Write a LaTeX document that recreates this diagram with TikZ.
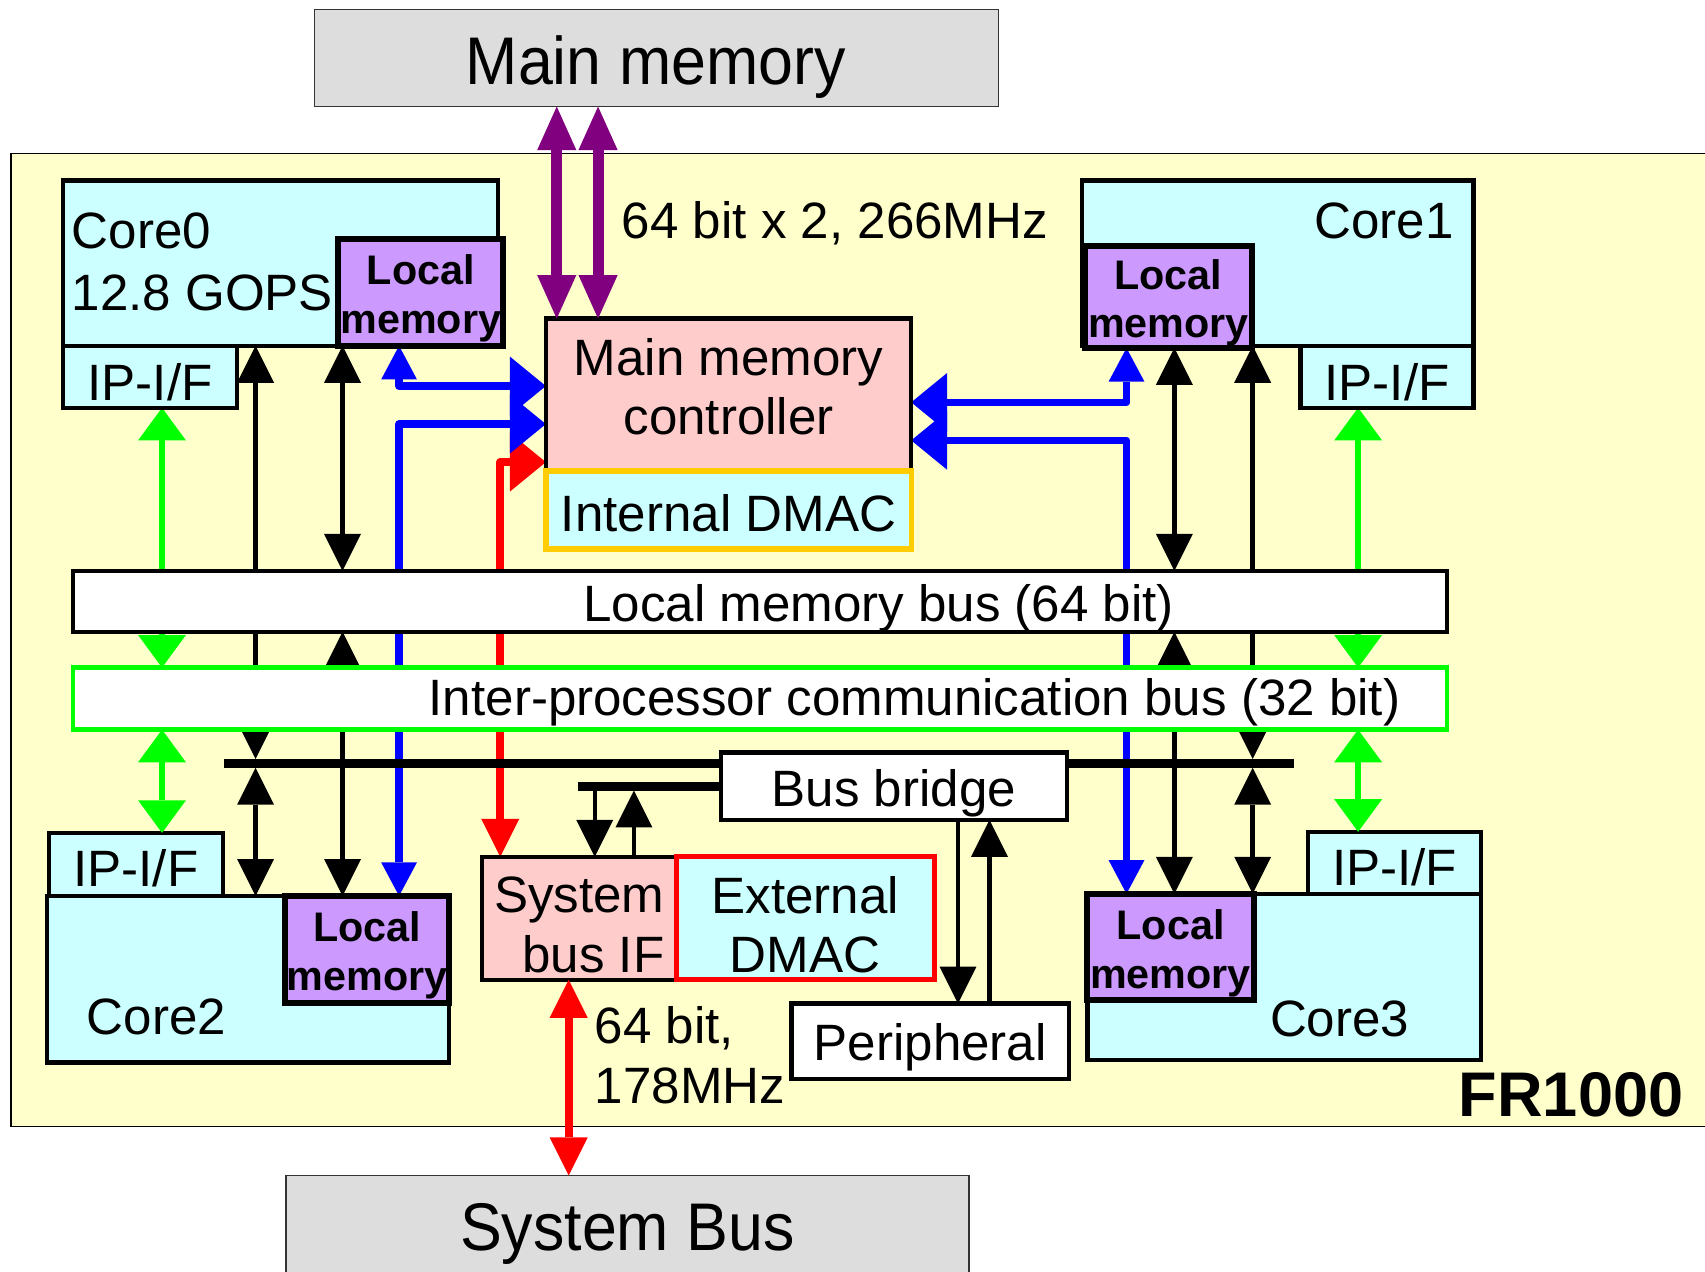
\documentclass[tikz,border=0pt]{standalone}
\usepackage{fontspec}
\setmainfont{Liberation Sans}
\usepackage{graphicx}
\usetikzlibrary{arrows.meta}

\definecolor{chipfill}{HTML}{FFFFCC}
\definecolor{corecyan}{HTML}{CCFFFF}
\definecolor{lmpurple}{HTML}{CC99FF}
\definecolor{ctrlpink}{HTML}{FFCCCC}
\definecolor{extgray}{HTML}{DDDDDD}
\definecolor{dmacorange}{HTML}{FFCC00}
\definecolor{ipgreen}{HTML}{00FF00}
\definecolor{busblue}{HTML}{0000FF}
\definecolor{sysred}{HTML}{FF0000}
\definecolor{memviolet}{HTML}{800080}

\pgfdeclarelayer{bg}
\pgfdeclarelayer{back}
\pgfsetlayers{bg,back,main}

\newcommand\fbody{\fontsize{47}{55}\selectfont}
\newcommand\fwide{\fontsize{47}{57}\selectfont}
\newcommand\fbig{\fontsize{62}{70}\selectfont}
\newcommand\flm{\fontsize{38}{45}\selectfont\bfseries}
\newcommand\ftitle{\fontsize{58}{66}\selectfont\bfseries}

% rectangle node given by its corners: name, style, x1, y1, x2, y2
\newcommand\blockat[6]{%
  \node[#2, minimum width={(#5)-(#3)}, minimum height={(#6)-(#4)}]
    (#1) at ({((#3)+(#5))/2},{((#4)+(#6))/2}) {};}

\tikzset{
  tipK/.tip={Triangle[width=34pt,length=34pt,line width=0pt]},
  tipS/.tip={Triangle[width=33pt,length=31pt,line width=0pt]},
  tipL/.tip={Triangle[width=54pt,length=33pt,line width=0pt]},
  tipR/.tip={Triangle[width=35pt,length=35pt,line width=0pt]},
  tipG/.tip={Triangle[width=44pt,length=30pt,line width=0pt]},
  tipP/.tip={Triangle[width=36pt,length=40pt,line width=0pt]},
  frame/.style={rectangle, inner sep=0pt, outer sep=0pt},
  boxed/.style={frame, draw=black, line width=4pt},
  corebox/.style={boxed, fill=corecyan},
  lmbox/.style={boxed, fill=lmpurple, line width=5.5pt},
  ctrlbox/.style={boxed, fill=ctrlpink},
  whitebox/.style={boxed, fill=white},
  offchip/.style={frame, draw=black!80, line width=1.2pt, fill=extgray},
  lbl/.style={inner sep=0pt, outer sep=0pt, font=\fbody},
  lmlbl/.style={inner sep=0pt, outer sep=0pt, font=\flm, align=center, yshift=-5.5pt},
  blk/.style={black, line width=4pt, arrows={tipK-tipK}},
  grn/.style={color=ipgreen, line width=6pt, arrows={tipG-tipG}},
  blu/.style={color=busblue, line width=7pt, line join=round},
  rd/.style={color=sysred, line width=7pt, line join=round},
  pur/.style={color=memviolet, line width=10pt, arrows={tipP-tipP}},
}

\begin{document}
\begin{tikzpicture}[x=1pt, y=-1pt]
\useasboundingbox (0,0) rectangle (1568,1169);

% ---------- chip outline and off-chip parts ----------
\begin{pgfonlayer}{bg}
  \fill[white] (0,0) rectangle (1568,1169);
  \blockat{fr}{frame, draw=black, line width=1.5pt, fill=chipfill}{10}{141}{1600}{1036}
\end{pgfonlayer}
\blockat{mainmem}{offchip}{289}{9}{918}{98}
\blockat{sysbus}{offchip}{263}{1081}{891}{1200}

% ---------- cores ----------
\blockat{core0}{corebox}{58}{166}{458}{318}
\blockat{c0lm}{lmbox}{311}{220}{463}{318}
\blockat{c0ip}{corebox}{58}{318}{218}{375}

\blockat{core1}{corebox}{995}{166}{1355}{318}
\blockat{c1lm}{lmbox}{998}{226}{1151}{320}
\blockat{c1ip}{corebox}{1196}{318}{1355}{375}

\blockat{core2}{corebox}{43}{824}{413}{977}
\blockat{c2ip}{corebox}{45}{766}{205}{824}
\blockat{c2lm}{lmbox}{262}{824}{413}{922}

\blockat{core3}{corebox}{1000}{822}{1362}{975}
\blockat{c3ip}{corebox}{1203}{765}{1362}{822}
\blockat{c3lm}{lmbox}{1000}{822}{1153}{920}

% ---------- memory controller ----------
\blockat{ctrl}{ctrlbox}{502}{293}{838}{433}
\blockat{idmac}{frame, draw=dmacorange, line width=5pt, fill=corecyan}{502}{433}{838}{505}

% ---------- buses ----------
\blockat{lmb}{whitebox}{67}{525}{1331}{581}
\blockat{ipb}{frame, draw=ipgreen, line width=4pt, fill=white}{67}{614}{1331}{671}
\blockat{bus}{frame, fill=black}{206}{698}{1190}{706}
\blockat{subbus}{frame, fill=black}{532}{719}{663}{727}
\blockat{bridge}{whitebox}{663}{692}{981}{754}

% ---------- system side ----------
\blockat{sysif}{ctrlbox}{443}{788}{622}{901}
\blockat{edmac}{frame, draw=sysred, line width=4.5pt, fill=corecyan}{622}{788}{859}{901}
\blockat{periph}{whitebox}{728}{923}{983}{992}

% ---------- connector columns and rows ----------
\coordinate (colGL) at (149,0);
\coordinate (colKA) at (235,0);
\coordinate (colKB) at (315,0);
\coordinate (colBL) at (367,0);
\coordinate (colR)  at (460,0);
\coordinate (colP1) at (512,0);
\coordinate (colP2) at (550,0);
\coordinate (colSB) at (523,0);
\coordinate (colS1) at (547,0);
\coordinate (colS2) at (583,0);
\coordinate (colQ1) at (881,0);
\coordinate (colQ2) at (910,0);
\coordinate (colBR) at (1036,0);
\coordinate (colKC) at (1080,0);
\coordinate (colKD) at (1152,0);
\coordinate (colGR) at (1249,0);
\coordinate (rowB1) at (0,355);
\coordinate (rowB2) at (0,390);
\coordinate (rowR)  at (0,425);
\coordinate (rowB3) at (0,370);
\coordinate (rowB4) at (0,405);

% ---------- connectors running underneath the buses ----------
\begin{pgfonlayer}{back}
  \draw[grn] (colGL |- c0ip.south) -- (colGL |- ipb.north);
  \draw[grn] (colGR |- c1ip.south) -- (colGR |- ipb.north);
  \draw[blk] (colKA |- core0.south) -- (colKA |- bus.north);
  \draw[blk] (colKD |- core1.south) -- (colKD |- bus.north);
  \draw[blk] (colKB |- lmb.south) -- (colKB |- c2lm.north);
  \draw[blk] (colKC |- lmb.south) -- (colKC |- c3lm.north);
  \draw[rd, arrows={tipL-tipR}] (rowR -| ctrl.west) -| (colR |- sysif.north);
  \draw[blu, arrows={tipS-tipL}] (colBL |- c0lm.south) |- (rowB1 -| ctrl.west);
  \draw[blu, arrows={tipL-tipS}] (rowB2 -| ctrl.west) -| (colBL |- c2lm.north);
  \draw[blu, arrows={tipL-tipS}] (rowB3 -| ctrl.east) -| (colBR |- c1lm.south);
  \draw[blu, arrows={tipL-tipS}] (rowB4 -| ctrl.east) -| (colBR |- c3lm.north);
\end{pgfonlayer}

% ---------- remaining connectors ----------
\draw[pur] (colP1 |- mainmem.south) -- (colP1 |- ctrl.north);
\draw[pur] (colP2 |- mainmem.south) -- (colP2 |- ctrl.north);
\draw[blk] (colKB |- core0.south) -- (colKB |- lmb.north);
\draw[blk] (colKC |- c1lm.south) -- (colKC |- lmb.north);
\draw[blk] (colKA |- bus.south) -- (colKA |- core2.north);
\draw[blk] (colKD |- bus.south) -- (colKD |- core3.north);
\draw[grn] (colGL |- ipb.south) -- (colGL |- c2ip.north);
\draw[grn] (colGR |- ipb.south) -- (colGR |- c3ip.north);
\draw[blk, arrows={-tipK}] (colS1 |- subbus.south) -- (colS1 |- sysif.north);
\draw[blk, arrows={-tipK}] (colS2 |- sysif.north) -- (colS2 |- subbus.south);
\draw[blk, arrows={-tipK}] (colQ1 |- bridge.south) -- (colQ1 |- periph.north);
\draw[blk, arrows={-tipK}] (colQ2 |- periph.north) -- (colQ2 |- bridge.south);
\draw[rd, arrows={tipR-tipR}] (colSB |- sysif.south) -- (colSB |- sysbus.north);

% ---------- labels ----------
\node[lbl, font=\fbig, anchor=base] (tmm) at (603,78) {\scalebox{0.93}[1]{Main memory}};
\node[lbl, font=\fbig, anchor=base] (tsb) at (577,1150) {\scalebox{0.93}[1]{System Bus}};
\node[lbl, anchor=base west] (tbw) at (572,219) {64 bit x 2, 266MHz};
\node[lbl, font=\fwide, anchor=west, align=left] (tc0) at (66,240.6) {Core0\\12.8 GOPS};
\node[lbl, anchor=base east] (tc1) at (1337,219) {Core1};
\node[lbl, anchor=base west] (tc2) at (80,951) {Core2};
\node[lbl, anchor=base west] (tc3) at (1168,953) {Core3};
\node[lmlbl] (tc0lm) at (c0lm.center) {Local\\memory};
\node[lmlbl] (tc1lm) at (c1lm.center) {Local\\memory};
\node[lmlbl] (tc2lm) at (c2lm.center) {Local\\memory};
\node[lmlbl] (tc3lm) at (c3lm.center) {Local\\memory};
\node[lbl, anchor=base] (tc0ip) at (138,368) {IP-I/F};
\node[lbl, anchor=base] (tc1ip) at (1275.5,368) {IP-I/F};
\node[lbl, anchor=base] (tc2ip) at (125,815) {IP-I/F};
\node[lbl, anchor=base] (tc3ip) at (1282.5,814) {IP-I/F};
\node[lbl, align=center] (tctrl) at (670,355.7) {Main memory\\controller};
\node[lbl, anchor=base] (tidmac) at (670,489) {Internal DMAC};
\node[lbl, anchor=base] (tlmb) at (808,572) {Local memory bus (64 bit)};
\node[lbl, anchor=base] (tipb) at (841,658) {Inter-processor communication bus (32 bit)};
\node[lbl, anchor=base] (tbridge) at (822,742) {Bus bridge};
\node[lbl, anchor=east, align=right] (tsysif) at (611,850.4) {System\\bus IF};
\node[lbl, align=center] (tedmac) at (740.5,850.4) {External\\DMAC};
\node[lbl, anchor=base] (tperiph) at (855.5,975) {Peripheral};
\node[lbl, anchor=west, align=left] (tsbw) at (547,970.5) {64 bit,\\178MHz};
\node[lbl, font=\ftitle, anchor=base east] (tfr) at (1548,1027) {FR1000};
\end{tikzpicture}
\end{document}
